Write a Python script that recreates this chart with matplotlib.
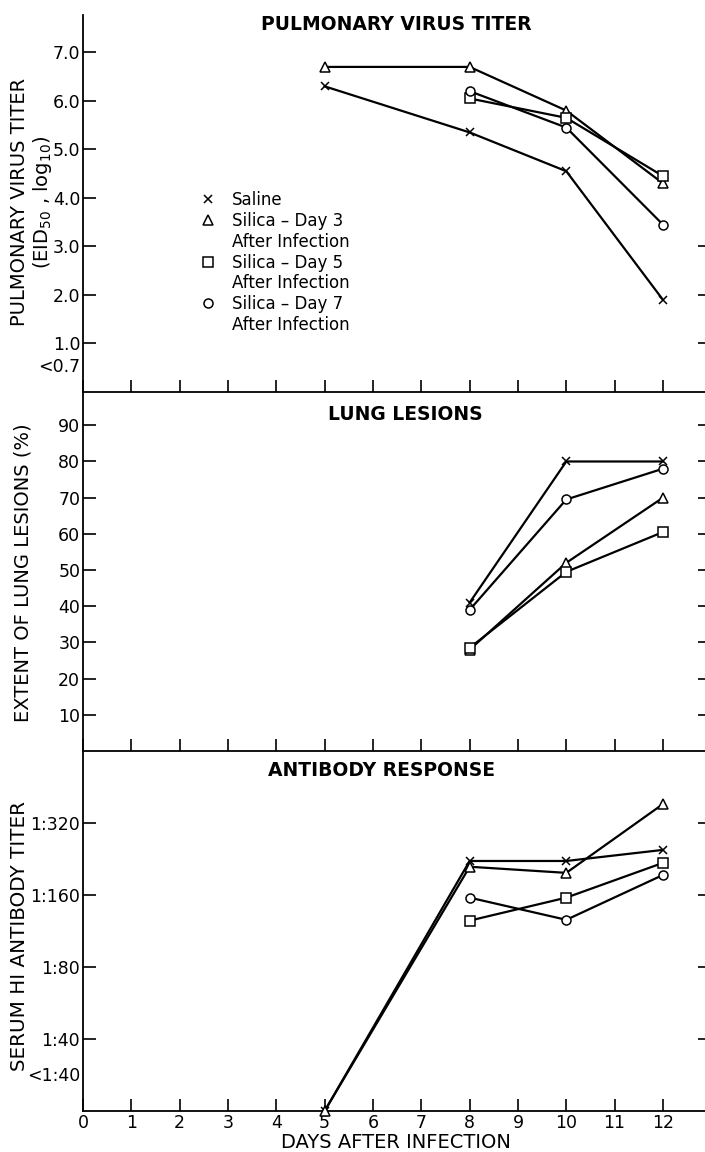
import numpy as np
import matplotlib
matplotlib.use("Agg")
import matplotlib.pyplot as plt
from matplotlib.lines import Line2D
from matplotlib.ticker import NullFormatter

plt.rcParams['font.family'] = ['DejaVu Sans']

# ---- data ----
days_early = [5, 8, 10, 12]
days_late = [8, 10, 12]

# pulmonary virus titer (EID50, log10)
virus_saline = [6.3, 5.35, 4.55, 1.9]
virus_day3 = [6.7, 6.7, 5.8, 4.3]
virus_day5 = [6.05, 5.65, 4.45]
virus_day7 = [6.2, 5.45, 3.45]

# extent of lung lesions (%)
lesion_saline = [41, 80, 80]
lesion_day3 = [28, 52, 70]
lesion_day5 = [28.5, 49.5, 60.5]
lesion_day7 = [39, 69.5, 78]

# serum HI antibody titer (reciprocal); 20 stands for "<1:40"
ab_saline = [20, 222, 222, 247]
ab_day3 = [20, 210, 198, 384]
ab_day5 = [125, 156, 218]
ab_day7 = [156, 126, 194]

virus_ticks = [1, 2, 3, 4, 5, 6, 7]
virus_ticklabels = ['1.0', '2.0', '3.0', '4.0', '5.0', '6.0', '7.0']
lesion_ticks = [10, 20, 30, 40, 50, 60, 70, 80, 90]
ab_ticks = [40, 80, 160, 320]
ab_ticklabels = ['1:40', '1:80', '1:160', '1:320']
day_ticks = list(range(0, 13))

W, H = 705, 1152
fig = plt.figure(figsize=(W / 100, H / 100), dpi=100)


def px_box(top, bottom, left=83, right=705):
    return [left / W, 1 - bottom / H, (right - left) / W, (bottom - top) / H]


ax1 = fig.add_axes(px_box(15, 392))
ax2 = fig.add_axes(px_box(392, 751))
ax3 = fig.add_axes(px_box(751, 1111))

lw = 1.6
styles = {
    'saline': dict(marker='x', ms=5.5, mew=1.1, color='black'),
    'day3': dict(marker='^', ms=6.5, mew=1.1, color='black', mfc='white'),
    'day5': dict(marker='s', ms=6.5, mew=1.1, color='black', mfc='white'),
    'day7': dict(marker='o', ms=6.5, mew=1.1, color='black', mfc='white'),
}


def draw(ax, x, y, key):
    ax.plot(x, y, lw=lw, clip_on=False, zorder=3, **styles[key])


draw(ax1, days_early, virus_saline, 'saline')
draw(ax1, days_early, virus_day3, 'day3')
draw(ax1, days_late, virus_day5, 'day5')
draw(ax1, days_late, virus_day7, 'day7')

draw(ax2, days_late, lesion_saline, 'saline')
draw(ax2, days_late, lesion_day3, 'day3')
draw(ax2, days_late, lesion_day5, 'day5')
draw(ax2, days_late, lesion_day7, 'day7')

draw(ax3, days_early, ab_saline, 'saline')
draw(ax3, days_early, ab_day3, 'day3')
draw(ax3, days_late, ab_day5, 'day5')
draw(ax3, days_late, ab_day7, 'day7')

for ax in (ax1, ax2, ax3):
    ax.set_xlim(0, 12.87)
    ax.spines['top'].set_visible(False)
    ax.spines['right'].set_visible(False)
    ax.spines['left'].set_linewidth(1.3)
    ax.spines['bottom'].set_linewidth(1.3)
    ax.set_xticks(day_ticks)
    ax.tick_params(axis='x', direction='in', length=9, width=1.2, pad=2,
                   labelsize=12.5)
    ax.tick_params(axis='y', which='major', direction='in', length=9,
                   width=1.2, pad=2, labelsize=12.5)
    ax.set_facecolor('none')

ax1.tick_params(axis='x', labelbottom=False)
ax2.tick_params(axis='x', labelbottom=False)


def right_ticks(ax, ticks):
    sec = ax.secondary_yaxis('right')
    sec.set_yticks(ticks)
    sec.spines['right'].set_visible(False)
    sec.tick_params(which='both', direction='in', length=5, width=1.2,
                    labelright=False)
    sec.yaxis.set_minor_locator(matplotlib.ticker.NullLocator())
    return sec


# panel 1 axis
ax1.set_ylim(0, 7.77)
ax1.set_yticks(virus_ticks, virus_ticklabels)
ax1.set_yticks([0.55], ['<0.7'], minor=True)
ax1.tick_params(axis='y', which='minor', length=0, pad=2, labelsize=12.5)
right_ticks(ax1, [1, 2, 3])

# panel 2 axis
ax2.set_ylim(0, 99.2)
ax2.set_yticks(lesion_ticks)
right_ticks(ax2, lesion_ticks)

# panel 3 axis (log2 titer scale)
ax3.set_yscale('log', base=2)
ax3.set_ylim(20, 640)
ax3.set_yticks(ab_ticks, ab_ticklabels)
ax3.yaxis.set_minor_formatter(NullFormatter())
ax3.set_yticks([28.5], ['<1:40'], minor=True)
ax3.tick_params(axis='y', which='minor', length=0, pad=2, labelsize=12.5)
right_ticks(ax3, ab_ticks)

# panel titles
fig.text(396 / W, 1 - 25 / H, 'PULMONARY VIRUS TITER', ha='center', va='center',
         fontsize=13.5, fontweight='bold')
fig.text(405 / W, 1 - 415 / H, 'LUNG LESIONS', ha='center', va='center',
         fontsize=13.5, fontweight='bold')
fig.text(382 / W, 1 - 770 / H, 'ANTIBODY RESPONSE', ha='center', va='center',
         fontsize=13.5, fontweight='bold')

# y labels
fig.text(32 / W, 1 - 202 / H, 'PULMONARY VIRUS TITER\n(EID$_{50}$ , log$_{10}$)',
         rotation=90, ha='center', va='center', fontsize=14, linespacing=1.1,
         multialignment='center')
fig.text(23 / W, 1 - 573 / H, 'EXTENT OF LUNG LESIONS (%)', rotation=90,
         ha='center', va='center', fontsize=14)
fig.text(20 / W, 1 - 936 / H, 'SERUM HI ANTIBODY TITER', rotation=90,
         ha='center', va='center', fontsize=14.3)

fig.text(396 / W, 1 - 1142 / H, 'DAYS AFTER INFECTION', ha='center', va='center',
         fontsize=14)

# legend
blank = Line2D([], [], lw=0, marker=None)
handles = [
    Line2D([], [], lw=0, **styles['saline']),
    Line2D([], [], lw=0, **styles['day3']), blank,
    Line2D([], [], lw=0, **styles['day5']), blank,
    Line2D([], [], lw=0, **styles['day7']), blank,
]
labels = ['Saline', 'Silica \u2013 Day 3', 'After Infection',
          'Silica \u2013 Day 5', 'After Infection',
          'Silica \u2013 Day 7', 'After Infection']
ax1.legend(handles, labels, loc='upper left', frameon=False, fontsize=12,
           bbox_to_anchor=(200 / W, 1 - 191 / H), bbox_transform=fig.transFigure,
           handlelength=1.0, handletextpad=0.9, labelspacing=0.17,
           borderpad=0, borderaxespad=0)

fig.savefig('out.png', dpi=100)
